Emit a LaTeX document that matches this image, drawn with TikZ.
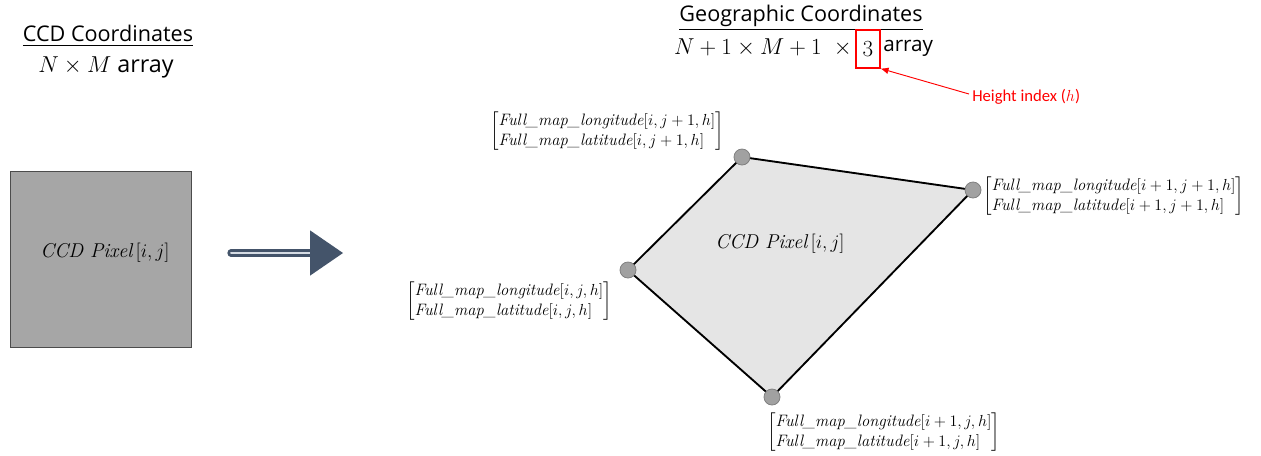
\documentclass[tikz,border=0pt]{standalone}
\usepackage{fontspec}
\newfontfamily\sansf{Open Sans}
\newfontfamily\redf{Carlito}
\usepackage{amsmath}
\usetikzlibrary{arrows.meta}
\definecolor{arrowblue}{RGB}{68,84,106}
\definecolor{arrowlight}{RGB}{214,220,228}
\begin{document}
\begin{tikzpicture}[x=0.75pt,y=-0.75pt,
  title/.style={font=\sansf\fontsize{16.2}{18}\selectfont, inner sep=0pt},
  mathlbl/.style={font=\sansf\fontsize{15.5}{18}\selectfont, inner sep=0pt},
  pixlbl/.style={font=\fontsize{15}{18}\selectfont, inner sep=0pt},
  coord/.style={font=\fontsize{12.4}{15}\selectfont, inner sep=0pt},
  corner/.style={circle, fill=black!37, draw=black!50, line width=0.6pt, minimum size=12pt, inner sep=0pt},
  edge/.style={draw=black, line width=1.4pt},
  redlbl/.style={font=\redf\fontsize{12.5}{15}\selectfont, text=red, inner sep=0pt}
]
\useasboundingbox (0,0) rectangle (1261,455);
\newcommand{\cmat}[2]{$\left[\begin{array}{@{}l@{}}\textit{Full\_map\_longitude}[#1]\\ \textit{Full\_map\_latitude}[#2]\end{array}\right]$}
\newcommand{\dimmath}[1]{\fontsize{17.5}{20}\selectfont$#1$}

% left part
\node[title] (ccdt) at (108,36) {\underline{CCD Coordinates}};
\node[mathlbl] (ccdd) at (106,67) {\dimmath{N\times M} array};
\node[draw=black!70, fill=black!35, line width=0.6pt, minimum width=135.75pt, minimum height=132pt, inner sep=0pt] (sq) at (100.5,259) {};
\node[pixlbl] (sqt) at (105,253) {$\textit{CCD Pixel}\,[i,j]$};

% big arrow
\coordinate (as) at (231,253);
\coordinate (ab) at (310,253);
\coordinate (ae) at (343,253);
\draw[draw=arrowblue, line width=2pt, double=arrowlight, double distance=1.5pt, line cap=round] (as) -- (ab);
\fill[arrowblue] (ae) -- ([yshift=-17]ab) -- ([yshift=17]ab) -- cycle;

% right title
\node[title] (geot) at (801,18) {\underline{Geographic Coordinates}};
\node[mathlbl, anchor=east] (dims) at (852,48) {\dimmath{N+1\times M+1\ \ \times}};
\node[mathlbl, draw=red, line width=0.8pt, minimum width=18pt, minimum height=28.5pt] (three) at (868,49) {\dimmath{3}};
\node[mathlbl, anchor=west] (arr) at (883,48) {array};
\node[redlbl, anchor=west] (hlbl) at (972,97) {Height index ($h$)};
\coordinate (hs) at (969,94);
\draw[red, line width=0.7pt, -{Latex[length=6pt,width=5pt]}] (hs) -- (three.south east);

% quadrilateral
\coordinate (ct) at (742,157);
\coordinate (cr) at (973,190);
\coordinate (cb) at (772,397);
\coordinate (cl) at (628,270);
\fill[black!10] (ct) -- (cr) -- (cb) -- (cl) -- cycle;
\draw[edge] (ct) -- (cr) -- (cb) -- (cl) -- cycle;
\node[corner] (nt) at (ct) {};
\node[corner] (nr) at (cr) {};
\node[corner] (nb) at (cb) {};
\node[corner] (nl) at (cl) {};
\node[pixlbl] (qt) at (780,244) {$\textit{CCD Pixel}\,[i,j]$};

% corner labels
\node[coord, anchor=east] (lt) at (724,131) {\cmat{i,j+1,h}{i,j+1,h}};
\node[coord, anchor=east] (ll) at (612,301) {\cmat{i,j,h}{i,j,h}};
\node[coord, anchor=west] (lb) at (767,432) {\cmat{i+1,j,h}{i+1,j,h}};
\node[coord, anchor=west] (lr) at (983,196) {\cmat{i+1,j+1,h}{i+1,j+1,h}};
\end{tikzpicture}
\end{document}
